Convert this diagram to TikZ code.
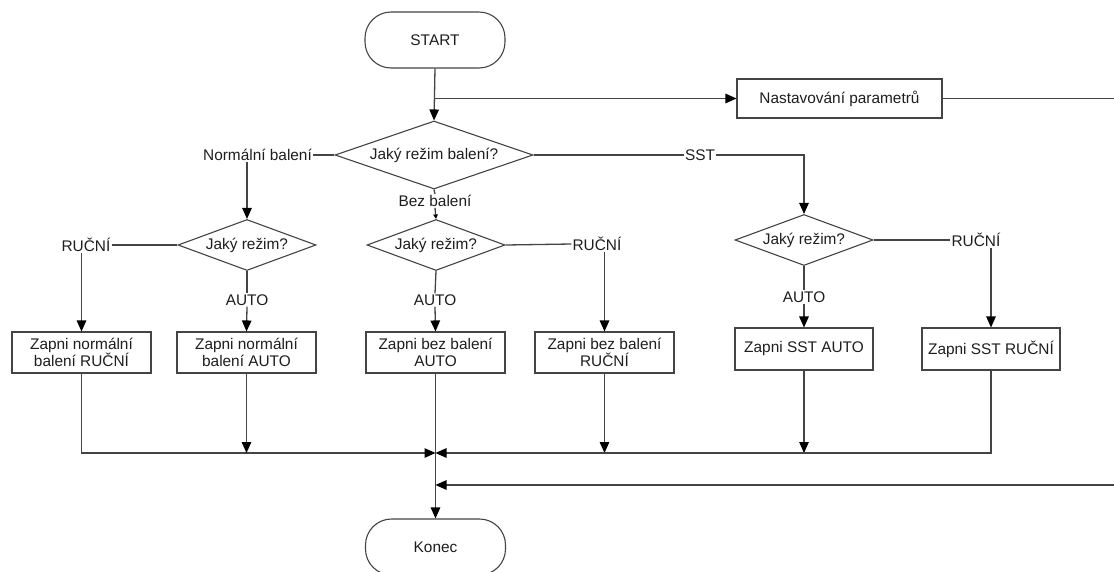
\documentclass[tikz,border=0pt]{standalone}
\usepackage{fontspec}
\setmainfont{Liberation Sans}
\usetikzlibrary{arrows.meta,shapes.geometric}
\definecolor{linegray}{HTML}{444444}
\definecolor{inkgray}{HTML}{1E1E1E}

\begin{document}
\begin{tikzpicture}[x=1pt,y=-1pt,
  every node/.style={font=\fontsize{15.4}{17.5}\selectfont, text=inkgray},
  conn/.style={draw=linegray, line width=1.3pt},
  flow/.style={conn, -{Triangle[length=11pt,width=9.5pt,color=black]}},
  tinyflow/.style={conn, -{Triangle[length=4.5pt,width=4.5pt,color=black]}},
  terminal/.style={draw=linegray, line width=1.1pt, rounded corners=26pt,
    minimum width=140pt, minimum height=56pt, inner sep=0pt, fill=white},
  process/.style={draw=linegray, line width=1.1pt, minimum width=139pt,
    minimum height=41pt, inner sep=0pt, align=center, fill=white},
  decision/.style={draw=linegray, line width=1.1pt, diamond, aspect=3,
    inner sep=0pt, minimum width=138pt, minimum height=51pt, fill=white},
  lbl/.style={inner sep=1pt},
]
% canvas
\fill[white] (0,0) rectangle (1114,571);
\useasboundingbox (0,0) rectangle (1114,571);

% start, settings and the first decision
\node[terminal] (start) at (435,40) {START};
\node[process, minimum width=205pt, minimum height=39pt] (nast) at (839.5,98.5) {Nastavování parametrů};
\node[decision, minimum width=198pt, minimum height=68pt] (d1) at (434,155) {Jaký režim balení?};

% branch labels of the first decision
\node[lbl] (lNorm) at (257.5,155) {Normální balení};
\node[lbl] (lBez) at (435,201) {Bez balení};
\node[lbl] (lSST) at (700,155) {SST};

% second-level decisions
\node[decision] (d2) at (247,245) {Jaký režim?};
\node[decision] (d3) at (436,245) {Jaký režim?};
\node[decision] (d4) at (804,240) {Jaký režim?};

% mode labels
\node[lbl] (r2) at (86,245) {RUČNÍ};
\node[lbl] (a2) at (247,300) {AUTO};
\node[lbl] (r3) at (597,244) {RUČNÍ};
\node[lbl] (a3) at (435,300) {AUTO};
\node[lbl] (r4) at (976,240) {RUČNÍ};
\node[lbl] (a4) at (804,297) {AUTO};

% actions
\node[process] (b1) at (81.5,352.5) {Zapni normální\\balení RUČNÍ};
\node[process] (b2) at (246.5,352.5) {Zapni normální\\balení AUTO};
\node[process] (b3) at (435.5,352.5) {Zapni bez balení\\AUTO};
\node[process] (b4) at (604.5,352.5) {Zapni bez balení\\RUČNÍ};
\node[process, minimum width=138pt, minimum height=42pt] (b5) at (804,349) {Zapni SST AUTO};
\node[process, minimum width=138pt, minimum height=42pt] (b6) at (991,349) {Zapni SST RUČNÍ};

% end
\node[terminal] (konec) at (435.5,547) {Konec};

% junctions
\coordinate (merge) at (435.5,453);
\coordinate (loopIn) at (435.5,485);
\coordinate (outR) at (1114,98.5);
\coordinate (inR) at (1114,485);

% top part
\draw[flow] (start.south) -- (d1.north);
\draw[flow] (start.south |- nast.west) -- (nast.west);
\draw[conn] (nast.east) -- (outR);

\draw[conn] (d1.west) -- (lNorm.east);
\draw[flow] (lNorm.south -| d2.north) -- (d2.north);
\draw[conn] (d1.south) -- (lBez.north);
\draw[tinyflow] (lBez.south) -- (d3.north);
\draw[conn] (d1.east) -- (lSST.west);
\draw[flow] (lSST.east) -| (d4.north);

% second-level branches
\draw[conn] (d2.west) -- (r2.east);
\draw[flow] (r2.south -| b1.north) -- (b1.north);
\draw[conn] (d2.south) -- (a2.north);
\draw[flow] (a2.south) -- (b2.north);

\draw[conn] (d3.east) -- (r3.west);
\draw[flow] (r3.south -| b4.north) -- (b4.north);
\draw[conn] (d3.south) -- (a3.north);
\draw[flow] (a3.south) -- (b3.north);

\draw[conn] (d4.east) -- (r4.west);
\draw[flow] (r4.south -| b6.north) -- (b6.north);
\draw[conn] (d4.south) -- (a4.north);
\draw[flow] (a4.south) -- (b5.north);

% collecting lines
\draw[flow] (b3.south) -- (konec.north);
\draw[flow] (b1.south) |- (merge);
\draw[flow] (b2.south) -- (b2.south |- merge);
\draw[flow] (b4.south) -- (b4.south |- merge);
\draw[flow] (b5.south) -- (b5.south |- merge);
\draw[flow] (b6.south) |- (merge);
\draw[flow] (inR) -- (loopIn);
\end{tikzpicture}
\end{document}
